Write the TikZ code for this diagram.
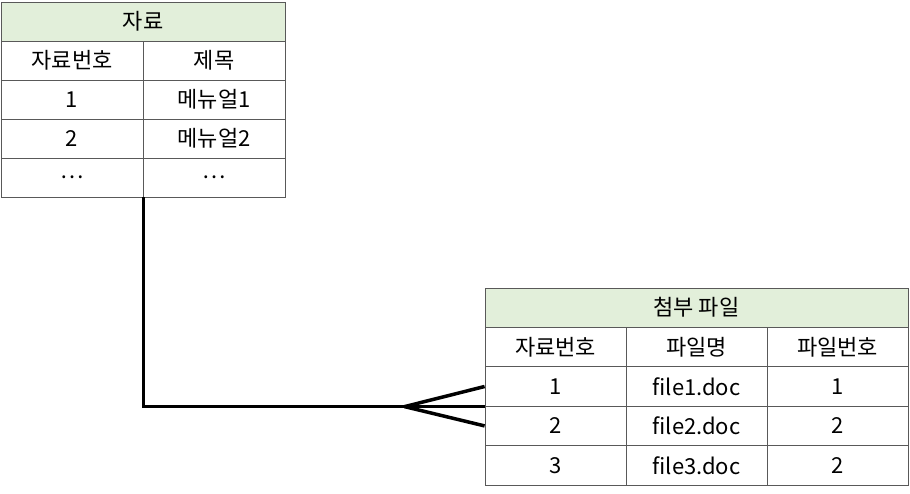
\documentclass[tikz,border=0pt]{standalone}
\usepackage{fontspec}
\setmainfont{Noto Sans CJK KR}
\usepackage{xcolor}
\usetikzlibrary{positioning}

\definecolor{headgreen}{HTML}{E2EFDA}
\tikzset{
  cell/.style={draw=black!65, line width=0.8pt, inner sep=0pt, minimum height=39pt, font=\fontsize{22}{26}\selectfont},
  headcell/.style={cell, fill=headgreen},
  link/.style={line width=3.5pt}
}

\begin{document}
\begin{tikzpicture}[x=1pt,y=-1pt]
\useasboundingbox (0,0) rectangle (910,493);
% 자료
\node[headcell, minimum width=284pt] (ja) at (143,21.5) {자료};
\foreach \r/\a/\b in {1/자료번호/제목, 2/1/메뉴얼1, 3/2/메뉴얼2, 4/{\ldots}/{\ldots}}{
\node[cell, minimum width=142pt] (ja\r1) at (72,21.5+39*\r) {\a};
\node[cell, minimum width=142pt] (ja\r2) at (214,21.5+39*\r) {\b};
}
% 첨부 파일
\node[headcell, minimum width=423pt, minimum height=39.4pt] (pf) at (696.5,307.7) {첨부 파일};
\foreach \r/\a/\b/\c in {1/자료번호/파일명/파일번호, 2/1/file1.doc/1, 3/2/file2.doc/2, 4/3/file3.doc/2}{
\node[cell, minimum width=141pt, minimum height=39.4pt] (pf\r1) at (555.5,307.7+39.4*\r) {\a};
\node[cell, minimum width=141pt, minimum height=39.4pt] (pf\r2) at (696.5,307.7+39.4*\r) {\b};
\node[cell, minimum width=141pt, minimum height=39.4pt] (pf\r3) at (837.5,307.7+39.4*\r) {\c};
}
% 관계선
\coordinate[left=80pt of pf21.south west] (foot);
\draw[link] (ja41.south east) |- (pf21.south west);
\draw[link] (foot) -- (pf21.west);
\draw[link] (foot) -- (pf31.west);
\end{tikzpicture}
\end{document}
